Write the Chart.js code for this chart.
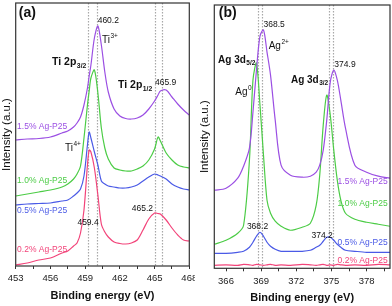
<!DOCTYPE html>
<html lang="en">
<head>
<meta charset="UTF-8">
<title>XPS spectra of Ag-P25</title>
<script src="https://cdn.jsdelivr.net/npm/chart.js"></script>
<style>
  body { margin: 0; background: #fff; }
  #wrap { position: relative; width: 392px; height: 306px; overflow: hidden; }
  #boxA { position: absolute; left: 0; top: 0; width: 195px; height: 306px; overflow: hidden; }
  #boxB { position: absolute; left: 196px; top: 0; width: 196px; height: 306px; }
  canvas { display: block; }
</style>
</head>
<body>
<div id="wrap">
  <div id="boxA"><canvas id="chartA" width="230" height="306" style="width:230px;height:306px"></canvas></div>
  <div id="boxB"><canvas id="chartB" width="196" height="306" style="width:196px;height:306px"></canvas></div>
</div>
<script>
const seriesNames = ['1.5% Ag-P25', '1.0% Ag-P25', '0.5% Ag-P25', '0.2% Ag-P25'];
const colors = ['#9b4fe3', '#4ccc46', '#4a5ae6', '#f2447a'];
const FAM = '"Liberation Sans", Arial, sans-serif';

// --- Ti 2p panel (a) ---
const tiEnergy = [453, 454, 455, 456, 457, 457.5, 458, 458.3, 458.6, 458.9, 459.2, 459.35, 459.5, 459.8, 460.1, 460.4, 460.7, 461, 461.5, 462, 462.5, 463, 463.5, 464, 464.5, 465, 465.3, 465.5, 466, 466.5, 467, 467.5, 468];
const ti15 = [126, 127, 127.5, 129, 133, 135, 139, 143, 149, 161, 178, 190, 201, 228, 240, 221, 194, 174, 157, 150, 147.5, 147, 148, 151, 157, 165, 171, 175, 176, 169, 162, 156, 151];
const ti10 = [70, 72, 74, 76, 79, 82, 87, 92, 100, 128, 161, 175, 188, 196, 173, 138, 118, 107, 98, 96, 95, 95, 97, 100, 106, 117, 129, 125, 113, 106, 101, 99, 98];
const ti05 = [61, 62, 62.5, 63, 65, 66, 70, 73, 77, 90, 121, 134, 128, 114, 101, 85, 82, 80, 79, 78, 78, 79, 81, 85, 89, 92, 91, 90, 87, 82, 79, 77, 76];
const ti02 = [1, 3, 6, 8, 13, 15, 20, 23, 33, 56, 101, 116, 114, 98, 71, 42, 34, 29, 24, 22.5, 22, 23, 26, 36, 47, 53, 52.5, 52, 46, 38, 31, 26, 25];
const tiTicks = [453, 456, 459, 462, 465, 468];
const tiRefLines = [459.28, 460.0, 465.04, 465.67];

// --- Ag 3d panel (b) ---
const agEnergy = [365, 366, 367, 367.5, 368, 368.3, 368.6, 368.9, 369.2, 369.5, 369.8, 370.2, 370.7, 371.5, 372.5, 373.2, 373.7, 374, 374.3, 374.6, 374.9, 375.2, 375.5, 375.8, 376.2, 377, 378, 379, 380];
const ag15 = [78, 80, 90, 102, 120, 156, 198, 232, 238, 216, 193, 148, 103, 93, 91, 92, 96, 103, 118, 148, 186, 198, 188, 168, 140, 103, 96, 92, 90];
const ag10 = [24, 28, 35, 43, 108, 188, 205, 163, 113, 68, 55, 47, 42, 38, 41, 45, 63, 93, 143, 173, 153, 118, 88, 68, 55, 49, 46, 44, 42];
const ag05 = [15, 15, 16, 17, 21, 26, 32, 36, 32, 26, 22, 19, 17, 17, 17, 18, 21, 23, 27, 31, 31, 28, 24, 21, 18, 17, 16, 16, 16];
const ag02 = [3, 3.5, 3, 4, 3.5, 3, 4, 3.5, 3, 3.5, 4, 3, 3.5, 3, 4, 3.5, 3, 3.5, 4, 3, 3.5, 3, 4, 3.5, 3, 3.5, 3, 4, 3.5];
const agTicks = [366, 369, 372, 375, 378];
const agRefLines = [368.75, 369.1, 374.8, 375.15];

// labels placed in data coordinates
const notesA = [
  { text: '(a)', x: 454.0, y: 253, size: 14, bold: true, align: 'center' },
  { text: '460.2', x: 461.0, y: 245, size: 8.5, align: 'center' },
  { text: 'Ti', sup: '3+', x: 460.46, y: 226, size: 10 },
  { text: 'Ti 2p', sub: '3/2', x: 456.14, y: 204, size: 10.5, bold: true },
  { text: 'Ti 2p', sub: '1/2', x: 461.84, y: 181, size: 10.5, bold: true },
  { text: '465.9', x: 465.95, y: 183, size: 8.5, align: 'center' },
  { text: 'Ti', sup: '4+', x: 457.26, y: 118, size: 10 },
  { text: '459.4', x: 459.25, y: 43, size: 8.5, align: 'center' },
  { text: '465.2', x: 463.95, y: 57, size: 8.5, align: 'center' },
  { text: seriesNames[0], x: 453.12, y: 139, size: 8.5, color: colors[0] },
  { text: seriesNames[1], x: 453.12, y: 85, size: 8.5, color: colors[1] },
  { text: seriesNames[2], x: 453.12, y: 55, size: 8.5, color: colors[2] },
  { text: seriesNames[3], x: 453.12, y: 16, size: 8.5, color: colors[3] }
];
const notesB = [
  { text: '(b)', x: 366.14, y: 255, size: 14, bold: true, align: 'center' },
  { text: '368.5', x: 369.2, y: 243, size: 8.5 },
  { text: 'Ag', sup: '2+', x: 369.64, y: 222, size: 10 },
  { text: 'Ag 3d', sub: '5/2', x: 365.32, y: 208, size: 10, bold: true },
  { text: 'Ag', sup: '0', x: 366.79, y: 176, size: 10 },
  { text: 'Ag 3d', sub: '3/2', x: 371.54, y: 188, size: 10, bold: true },
  { text: '374.9', x: 375.25, y: 203, size: 8.5 },
  { text: '368.2', x: 368.69, y: 42, size: 8.5, align: 'center' },
  { text: '374.2', x: 374.2, y: 33, size: 8.5, align: 'center' },
  { text: seriesNames[0], x: 379.8, y: 87, size: 8.5, align: 'right', color: colors[0] },
  { text: seriesNames[1], x: 379.8, y: 65, size: 8.5, align: 'right', color: colors[1] },
  { text: seriesNames[2], x: 379.8, y: 26, size: 8.5, align: 'right', color: colors[2] },
  { text: seriesNames[3], x: 379.8, y: 8, size: 8.5, align: 'right', color: colors[3] }
];

function drawNote(ctx, n, px, py) {
  const main = (n.bold ? 'bold ' : '') + n.size + 'px ' + FAM;
  const small = (n.bold ? 'bold ' : '') + (n.size * 0.65) + 'px ' + FAM;
  const extra = n.sub || n.sup || '';
  ctx.font = main;
  const w = ctx.measureText(n.text).width;
  ctx.font = small;
  const ew = extra ? ctx.measureText(extra).width : 0;
  let x0 = px;
  if (n.align === 'center') x0 = px - (w + ew) / 2;
  if (n.align === 'right') x0 = px - (w + ew);
  ctx.fillStyle = n.color || '#111';
  ctx.textAlign = 'left';
  ctx.textBaseline = 'middle';
  ctx.font = main;
  ctx.fillText(n.text, x0, py);
  if (extra) {
    ctx.font = small;
    const dy = n.sub ? n.size * 0.35 : -n.size * 0.4;
    ctx.fillText(extra, x0 + w + 0.5, py + dy);
  }
}

const panelDecor = {
  id: 'panelDecor',
  beforeDatasetsDraw(chart, args, opts) {
    const { ctx, chartArea: a, scales: { x } } = chart;
    ctx.save();
    ctx.strokeStyle = '#a8a8a8';
    ctx.lineWidth = 1.2;
    ctx.setLineDash([1.5, 1.5]);
    opts.refs.forEach(v => {
      const px = Math.round(x.getPixelForValue(v)) + 0.5;
      ctx.beginPath();
      ctx.moveTo(px, a.top);
      ctx.lineTo(px, a.bottom);
      ctx.stroke();
    });
    ctx.restore();
  },
  afterDatasetsDraw(chart, args, opts) {
    const { ctx, chartArea: a, scales: { x, y } } = chart;
    ctx.save();
    ctx.strokeStyle = '#333';
    ctx.lineWidth = 1.2;
    ctx.strokeRect(a.left, a.top, a.right - a.left, a.bottom - a.top);
    opts.notes.forEach(n => drawNote(ctx, n, x.getPixelForValue(n.x), y.getPixelForValue(n.y)));
    ctx.restore();
  }
};

function makeChart(id, energy, series, major, refs, xMin, xMax, notes, lay) {
  const allTicks = [];
  major.forEach(v => {
    if (v >= xMin) allTicks.push(v);
    if (v + 1.5 < xMax) allTicks.push(v + 1.5);
  });
  new Chart(document.getElementById(id), {
    type: 'line',
    data: {
      datasets: series.map((ys, i) => ({
        label: seriesNames[i],
        data: energy.map((e, j) => ({ x: e, y: ys[j] })),
        borderColor: colors[i],
        borderWidth: 1.2,
        pointRadius: 0,
        tension: 0.3,
        fill: false
      }))
    },
    options: {
      responsive: false,
      animation: false,
      layout: { padding: lay.pad },
      plugins: {
        legend: { display: false },
        tooltip: { enabled: false },
        panelDecor: { refs: refs, notes: notes }
      },
      scales: {
        x: {
          type: 'linear',
          min: xMin,
          max: xMax,
          afterBuildTicks: s => { s.ticks = allTicks.map(v => ({ value: v })); },
          afterFit: s => { s.height = lay.xh; },
          ticks: {
            autoSkip: false, maxRotation: 0, padding: 4, color: '#222',
            font: { size: 9.5, family: FAM },
            callback: v => major.includes(v) ? String(v) : ''
          },
          grid: { drawOnChartArea: false, drawTicks: true, tickLength: 3, color: '#333' },
          border: { display: false },
          title: {
            display: true, text: 'Binding energy (eV)', color: '#111',
            font: { size: 11, weight: 'bold', family: FAM },
            padding: { top: 0, bottom: lay.tb }
          }
        },
        y: {
          min: 0,
          max: 263,
          afterFit: s => { s.width = lay.yw; },
          ticks: { display: false },
          grid: { display: false },
          border: { display: false },
          title: {
            display: true, text: 'Intensity (a.u.)', color: '#111',
            font: { size: 11.5, family: FAM },
            padding: { top: lay.yt, bottom: 0 }
          }
        }
      }
    },
    plugins: [panelDecor]
  });
}

makeChart('chartA', tiEnergy, [ti15, ti10, ti05, ti02], tiTicks, tiRefLines, 453, 468, notesA,
  { pad: { left: 0, top: 3, right: 40.7, bottom: 0 }, xh: 40, yw: 15.7, tb: 3.4, yt: 0 });
makeChart('chartB', agEnergy, [ag15, ag10, ag05, ag02], agTicks, agRefLines, 365, 380, notesB,
  { pad: { left: 0, top: 5, right: 2, bottom: 0 }, xh: 37.7, yw: 18.3, tb: 1.4, yt: 2 });
</script>
</body>
</html>
